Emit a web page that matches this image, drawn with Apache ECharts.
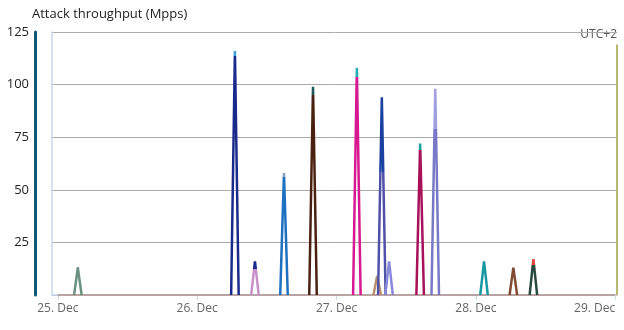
<!DOCTYPE html>
<html>
<head>
<meta charset="utf-8">
<script src="https://cdn.jsdelivr.net/npm/echarts@6/dist/echarts.min.js"></script>
<style>
html, body { margin: 0; padding: 0; background: #fff; }
#chart { width: 624px; height: 330px; }
</style>
</head>
<body>
<div id="chart"></div>
<script>
// x values are hours after 25 Dec 00:00 (UTC+2)
const dayTicks = [0, 24, 48, 72, 96]
const dayLabels = ['25. Dec', '26. Dec', '27. Dec', '28. Dec', '29. Dec']
const yTicks = [25, 50, 75, 100, 125]
const attackHours = [3.45, 30.5, 33.95, 38.95, 43.95, 51.5, 55.0, 55.8, 57.05, 62.4, 65.0, 73.4, 78.45, 81.9]
const attackPeaks = [13, 116, 16, 58, 99, 108, 9, 94, 16, 72, 98, 16, 13, 17]

const mainColors = ['#6a9080', '#1a2a8c', '#c890c8', '#1e70c0', '#4a2010', '#d81890', '#b89070',
  '#5050a8', '#8888d8', '#a8105a', '#7878c8', '#1898a0', '#804a30', '#2a4a40']
const tipColors = ['#1a2a6a', '#3aa0e0', '#1a2a8c', '#8aa0c0', '#1e5a5a', '#20b0b0', '#b89070',
  '#1a40a0', '#8888d8', '#20a0a0', '#a0a0e0', '#1898a0', '#804a30', '#e04a3a']
const tipSize = [0.08, 0.03, 0.25, 0.05, 0.05, 0.05, 0, 0.38, 0, 0.06, 0.2, 0, 0, 0.2]

const halfWidth = 0.65
const font = '"Open Sans", "Noto Sans", sans-serif'

const spikeSeries = attackHours.map((h, i) => ({
  type: 'line',
  symbol: 'none',
  silent: true,
  z: 3,
  data: [[h - halfWidth, 0], [h, attackPeaks[i]], [h + halfWidth, 0]],
  lineStyle: {
    width: 2.5,
    color: new echarts.graphic.LinearGradient(0, 0, 0, 1, [
      { offset: 0, color: tipColors[i] },
      { offset: tipSize[i], color: tipColors[i] },
      { offset: tipSize[i], color: mainColors[i] },
      { offset: 1, color: mainColors[i] }
    ])
  }
}))

const chart = echarts.init(document.getElementById('chart'))
chart.setOption({
  animation: false,
  title: {
    text: 'Attack throughput (Mpps)',
    left: 27,
    top: 3,
    textStyle: { fontSize: 13, fontWeight: 'normal', color: '#222', fontFamily: font }
  },
  graphic: [{
    type: 'text',
    right: 7,
    top: 29,
    style: { text: 'UTC+2', fill: '#555', font: '12px ' + font }
  }],
  grid: { left: 52, right: 7, top: 32, bottom: 35, containLabel: false, outerBoundsMode: 'none' },
  xAxis: {
    type: 'value',
    min: -1,
    max: 96.3,
    axisLine: { show: true, lineStyle: { color: '#c8d8ec', width: 1.5 } },
    axisTick: { show: true, customValues: dayTicks, length: 5, lineStyle: { color: '#c8d8ec' } },
    axisLabel: {
      customValues: dayTicks,
      formatter: v => dayLabels[dayTicks.indexOf(v)],
      alignMaxLabel: 'right',
      color: '#666',
      fontSize: 12,
      fontFamily: font,
      margin: 8
    },
    splitLine: { show: false }
  },
  yAxis: [{
    type: 'value',
    min: 0,
    max: 125,
    interval: 25,
    position: 'left',
    offset: 17,
    axisLine: { show: true, onZero: false, lineStyle: { color: '#10587a', width: 3 } },
    axisTick: { show: false },
    axisLabel: {
      customValues: yTicks,
      color: '#222',
      fontSize: 13,
      fontFamily: font,
      margin: 6
    },
    splitLine: { show: true, lineStyle: { color: '#ababab', width: 1 } }
  }, {
    type: 'value',
    min: 0,
    max: 125,
    position: 'left',
    offset: 0,
    axisLine: { show: true, onZero: false, lineStyle: { color: '#c8d8ec', width: 1.5 } },
    axisTick: { show: false },
    axisLabel: { show: false },
    splitLine: { show: false }
  }],
  series: [{
    type: 'line',
    symbol: 'none',
    silent: true,
    z: 2,
    data: [[dayTicks[0], 0], [dayTicks[dayTicks.length - 1], 0]],
    lineStyle: { color: '#b8a4a4', width: 2 },
    markLine: {
      silent: true,
      symbol: 'none',
      label: { show: false },
      lineStyle: { color: '#b8b870', width: 2, type: 'solid' },
      data: [[{ coord: [96.3, 0] }, { coord: [96.3, 119] }]]
    }
  }].concat(spikeSeries)
})
</script>
</body>
</html>
